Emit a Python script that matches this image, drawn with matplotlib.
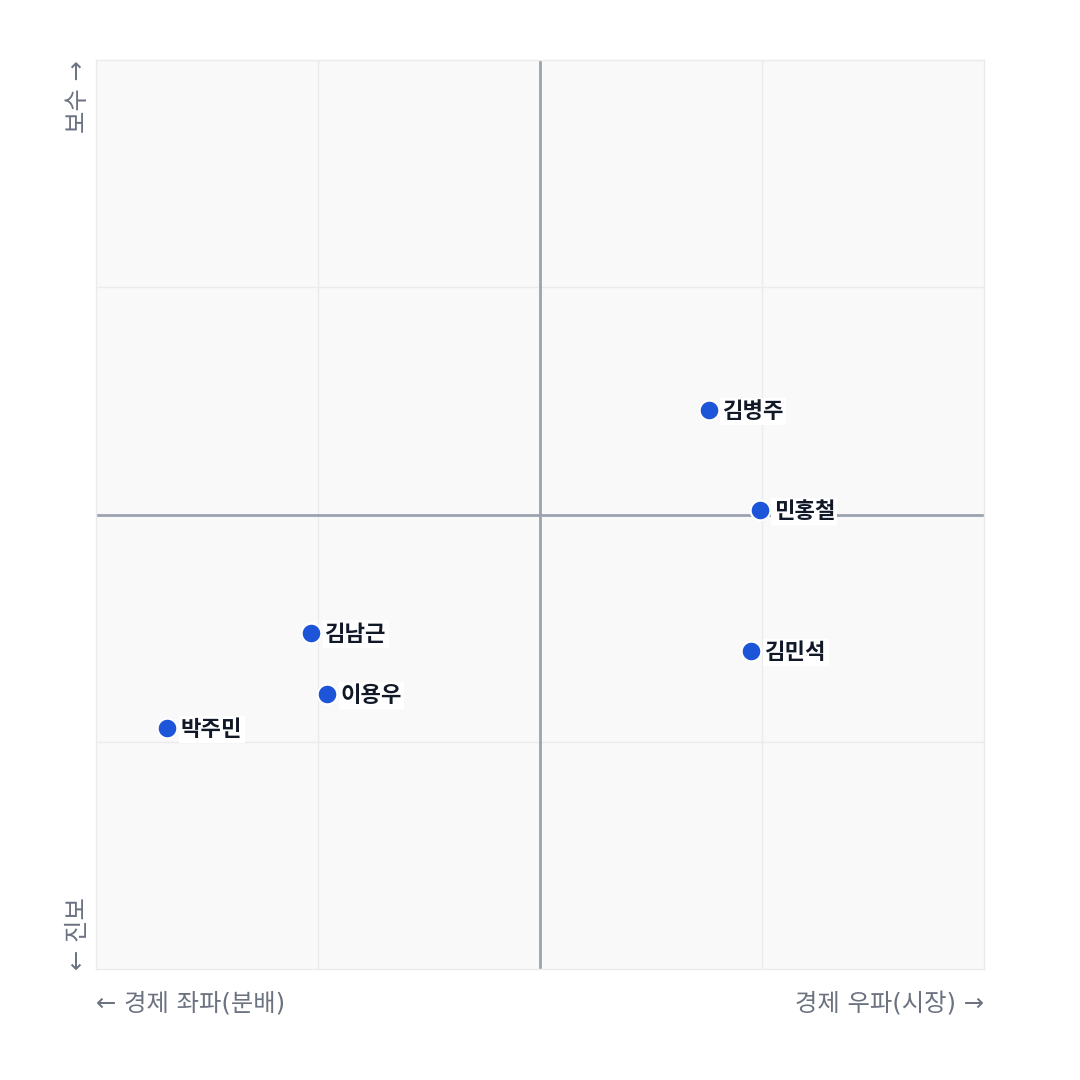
import matplotlib.pyplot as plt

plt.rcParams['font.family'] = ['Noto Sans CJK KR', 'DejaVu Sans']

names = ["김병주", "민홍철", "김민석", "김남근", "이용우", "박주민"]
econ = [3.8, 4.95, 4.75, -5.15, -4.8, -8.4]
social = [2.3, 0.1, -3.0, -2.6, -3.95, -4.7]

fig = plt.figure(figsize=(10.8, 10.8), dpi=100)
ax = fig.add_axes([96 / 1080, 1 - 969 / 1080, 888 / 1080, 909 / 1080])
ax.set_facecolor('#f9f9f9')
ax.set_xlim(-10, 10)
ax.set_ylim(-10, 10)

# light grid + center axes
for v in [-5, 5]:
    ax.axvline(v, color='#ebebeb', lw=1, zorder=1)
    ax.axhline(v, color='#ebebeb', lw=1, zorder=1)
ax.axvline(0, color='#9ca3af', lw=2, zorder=2)
ax.axhline(0, color='#9ca3af', lw=2, zorder=2)

ax.scatter(econ, social, s=200, color='#1d55d9', edgecolor='white', linewidth=1.5, zorder=4)
for n, x, y in zip(names, econ, social):
    ax.annotate(n, (x, y), xytext=(10, -1), textcoords='offset points', va='center', ha='left',
                fontsize=16, fontweight='bold', color='#111827', zorder=5,
                bbox=dict(boxstyle='square,pad=0.1', facecolor='white', edgecolor='none'))

ax.set_xticks([])
ax.set_yticks([])
for s in ax.spines.values():
    s.set_color('#ebebeb')
    s.set_linewidth(1)

lab = dict(fontsize=17.5, color='#6b7280', family=['DejaVu Sans', 'Noto Sans CJK KR'])
fig.text(96 / 1080, 1 - 1003 / 1080, "← 경제 좌파(분배)", ha='left', va='center', **lab)
fig.text(984 / 1080, 1 - 1003 / 1080, "경제 우파(시장) →", ha='right', va='center', **lab)
fig.text(78 / 1080, 1 - 60 / 1080, "보수 →", ha='center', va='top', rotation=90, **lab)
fig.text(78 / 1080, 1 - 970 / 1080, "← 진보", ha='center', va='bottom', rotation=90, **lab)

fig.savefig('out.png', dpi=100, facecolor='white')
